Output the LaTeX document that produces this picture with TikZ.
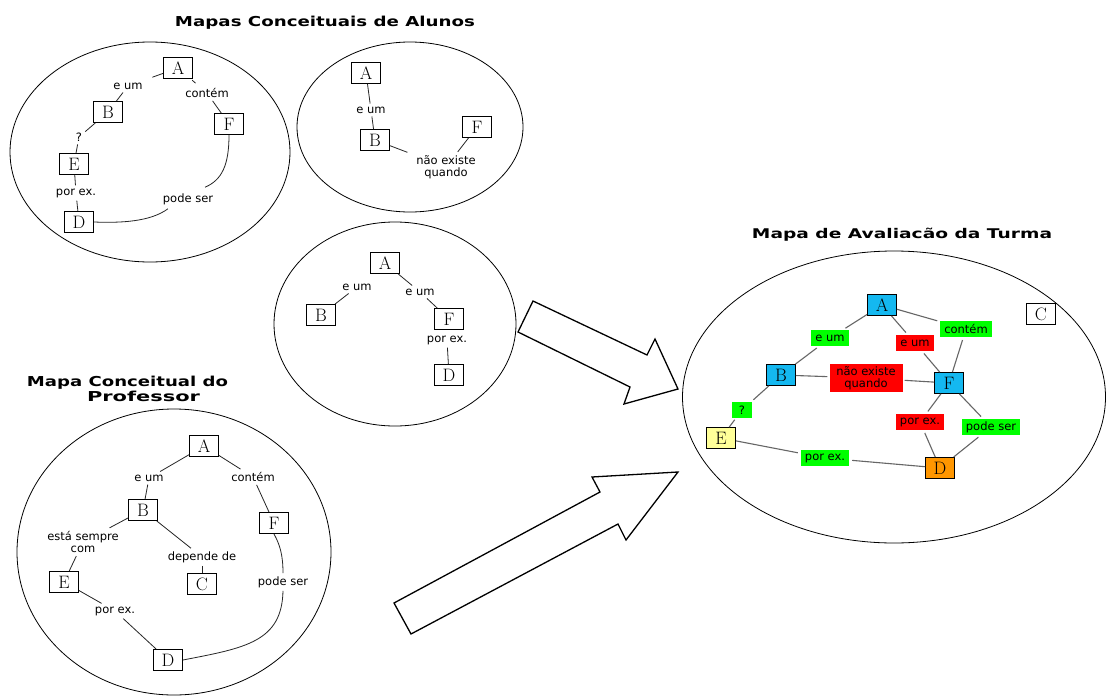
\documentclass[tikz,border=0pt]{standalone}
\usepackage{fontspec}
\usepackage{graphicx}
\newfontfamily\labfam{DejaVu Sans}
\newfontfamily\ttlfam{DejaVu Sans}
\newcommand\labfont{\labfam\fontsize{11.5}{12.5}\selectfont}
\newcommand\ttl[2]{\resizebox{#1pt}{10.4pt}{\ttlfam\bfseries #2}}
\definecolor{cyanbox}{RGB}{20,184,240}
\definecolor{yelbox}{RGB}{255,255,153}
\definecolor{orabox}{RGB}{255,150,0}
\definecolor{grn}{RGB}{0,255,0}
\definecolor{rd}{RGB}{255,0,0}
\tikzset{
  box/.style={draw=black, line width=0.9pt, minimum width=29pt, minimum height=21pt, inner sep=0pt, fill=white, font=\fontsize{18}{18}\selectfont},
  lbl/.style={font=\labfont, inner sep=3pt, align=center},
  tag/.style={font=\labfont, inner xsep=4pt, inner ysep=2.5pt, minimum height=16pt, align=center, text=black},
  conn/.style={line width=0.8pt, black!85},
  gconn/.style={line width=1.1pt, black!60},
  oval/.style={line width=0.8pt, black},
  bigarrow/.style={draw=black, line width=1.3pt, fill=white, line join=miter},
  ttlnode/.style={anchor=base, inner sep=0pt}
}
\begin{document}
\begin{tikzpicture}[x=1pt, y=-1pt]
\useasboundingbox (0,0) rectangle (1106,696);
\fill[white] (0,0) rectangle (1106,696);

% titles
\node[ttlnode] (t1) at (325,27) {\ttl{300}{Mapas Conceituais de Alunos}};
\node[ttlnode] (t2) at (902,238) {\ttl{300}{Mapa de Avaliacão da Turma}};
\node[ttlnode] (t3) at (127.5,386) {\ttl{201}{Mapa Conceitual do}};
\node[ttlnode] (t4) at (143.5,401) {\ttl{113}{Professor}};

% ellipses
\draw[oval] (150,152) ellipse [x radius=140, y radius=110];
\draw[oval] (410,127) ellipse [x radius=113, y radius=85];
\draw[oval] (395,324) ellipse [x radius=121, y radius=102];
\draw[oval] (174,552) ellipse [x radius=157, y radius=143];
\draw[oval] (894,397) ellipse [x radius=211.5, y radius=146];

% big arrows
\draw[bigarrow] (533,301) -- (647,355) -- (655,339) -- (678,389) -- (624,404) -- (630,387) -- (518,332) -- cycle;
\draw[bigarrow] (394,603) -- (600,492) -- (592,477) -- (678,472) -- (626,540) -- (618,524) -- (411,634) -- cycle;

% ---------- top-left student map
\node[box] (tlA) at (178,68) {A};
\node[box] (tlB) at (108,112) {B};
\node[box] (tlF) at (229,124) {F};
\node[box] (tlE) at (74,164) {E};
\node[box] (tlD) at (79,222) {D};
\node[lbl] (tleum) at (128,86) {e um};
\node[lbl] (tlcont) at (207,93) {contém};
\node[lbl] (tlq) at (79,137) {?};
\node[lbl] (tlpor) at (76,193) {por ex.};
\node[lbl] (tlps) at (188,199) {pode ser};
\draw[conn, shorten >=7pt] (tlA) -- (tleum);
\draw[conn] (tleum) -- (tlB);
\draw[conn, shorten <=2pt, shorten >=3pt] (tlA) -- (tlcont);
\draw[conn] (tlcont) -- (tlF);
\draw[conn] (tlB) -- (tlq);
\draw[conn] (tlq) -- (tlE);
\draw[conn] (tlE) -- (tlpor);
\draw[conn] (tlpor) -- (tlD);
\draw[conn] (tlF.south) .. controls (229,165) and (222,180) .. ([shift={(17,-3)}]tlps.north);
\draw[conn] ([shift={(-20,1)}]tlps.south) .. controls (150,222) and (120,223) .. (tlD.east);

% ---------- top-middle student map
\node[box] (tmA) at (366,73) {A};
\node[box] (tmB) at (375,140) {B};
\node[box] (tmF) at (477,127) {F};
\node[lbl] (tmeum) at (371,110) {e um};
\node[lbl] (tmne) at (446,167) {não existe\\quando};
\draw[conn] (tmA) -- (tmeum);
\draw[conn] (tmeum) -- (tmB);
\draw[conn, shorten >=6pt] (tmB) -- (tmne);
\draw[conn] (tmF) -- (tmne);

% ---------- middle student map
\node[box] (mA) at (385,263) {A};
\node[box] (mB) at (321,315) {B};
\node[box] (mF) at (449,319) {F};
\node[box] (mD) at (449,375) {D};
\node[lbl] (meum1) at (357,287) {e um};
\node[lbl] (meum2) at (420,292) {e um};
\node[lbl] (mpor) at (447,340) {por ex.};
\draw[conn] (meum1) -- (mB);
\draw[conn] (mA) -- (meum2);
\draw[conn] (meum2) -- (mF);
\draw[conn] (mpor) -- (mD);

% ---------- teacher map
\node[box] (bA) at (204,446) {A};
\node[box] (bB) at (143,510) {B};
\node[box] (bF) at (274,523) {F};
\node[box] (bE) at (64,582) {E};
\node[box] (bC) at (202,584) {C};
\node[box] (bD) at (168,660) {D};
\node[lbl] (beum) at (149,478) {e um};
\node[lbl] (bcont) at (253,477) {contém};
\node[lbl] (best) at (83,542) {está sempre\\com};
\node[lbl] (bdep) at (202,557) {depende de};
\node[lbl] (bps) at (283,582) {pode ser};
\node[lbl] (bpor) at (115,611) {por ex.};
\draw[conn] (bA) -- (beum);
\draw[conn] (beum) -- (bB);
\draw[conn] (bA) -- (bcont);
\draw[conn] (bcont) -- (bF);
\draw[conn] (bB) -- (best);
\draw[conn] (best) -- (bE);
\draw[conn] (bB) -- (bdep);
\draw[conn] (bdep) -- (bC);
\draw[conn] (bE) -- (bpor);
\draw[conn] (bpor) -- (bD);
\draw[conn] (bF.south) .. controls (280,545) and (283,555) .. (bps.north);
\draw[conn] (bps.south) .. controls (282,642) and (245,648) .. (bD.east);

% ---------- class evaluation map
\node[box, fill=cyanbox] (rA) at (882,305) {A};
\node[box, fill=cyanbox] (rB) at (781,375) {B};
\node[box, fill=cyanbox] (rF) at (949,383) {F};
\node[box, fill=yelbox] (rE) at (721,438) {E};
\node[box, fill=orabox] (rD) at (940,468) {D};
\node[box] (rC) at (1041,314) {C};
\node[tag, fill=grn] (reum1) at (830,338) {e um};
\node[tag, fill=rd] (reum2) at (915,343) {e um};
\node[tag, fill=grn] (rcont) at (966,329) {contém};
\node[tag, fill=rd, minimum width=73pt] (rne) at (866,378) {não existe\\quando};
\node[tag, fill=grn, minimum width=20pt] (rq) at (742,410) {?};
\node[tag, fill=rd] (rpor1) at (920,422) {por ex.};
\node[tag, fill=grn] (rps) at (991,427) {pode ser};
\node[tag, fill=grn] (rpor2) at (825,458) {por ex.};
\draw[gconn, shorten >=3pt] (rA) -- (reum1);
\draw[gconn, shorten <=3pt] (reum1) -- (rB);
\draw[gconn, shorten >=3pt] (rA) -- (reum2);
\draw[gconn, shorten <=3pt] (reum2) -- (rF);
\draw[gconn, shorten >=3pt] (rA) -- (rcont);
\draw[gconn, shorten <=3pt] (rcont) -- (rF);
\draw[gconn, shorten >=2pt] (rB) -- (rne);
\draw[gconn, shorten <=2pt] (rne) -- (rF);
\draw[gconn, shorten >=3pt] (rB) -- (rq);
\draw[gconn, shorten <=2pt] (rq) -- (rE);
\draw[gconn, shorten >=3pt] (rF) -- (rpor1);
\draw[gconn, shorten <=3pt] (rpor1) -- (rD);
\draw[gconn, shorten >=3pt] (rF) -- (rps);
\draw[gconn, shorten <=3pt] (rps) -- (rD);
\draw[gconn, shorten >=3pt] (rE) -- (rpor2);
\draw[gconn, shorten <=3pt] (rpor2) -- (rD);
\end{tikzpicture}
\end{document}
